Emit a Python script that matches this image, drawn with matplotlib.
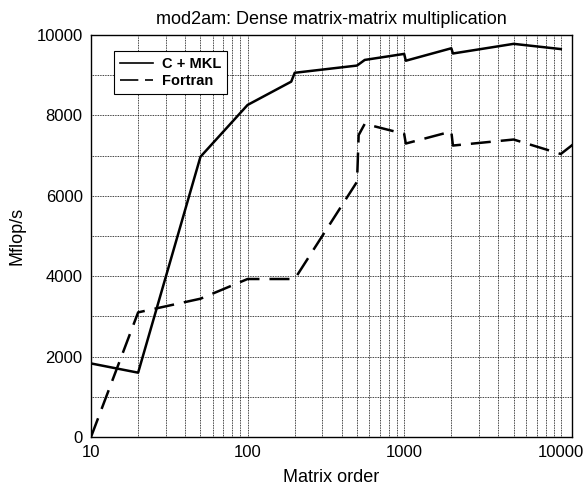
import matplotlib
matplotlib.use("Agg")
import matplotlib.pyplot as plt
from matplotlib.ticker import LogLocator, FixedLocator, NullFormatter

plt.rcParams['font.family'] = ['Liberation Sans', 'DejaVu Sans']

c_x = [10, 20, 50, 100, 190, 200, 500, 560, 1000, 1024, 2000, 2048, 5000, 10000]
c_y = [1830, 1600, 6970, 8260, 8840, 9060, 9240, 9380, 9530, 9360, 9670, 9540, 9780, 9650]

f_x = [10, 20, 50, 100, 200, 500, 512, 560, 1000, 1024, 2000, 2048, 5000, 10000, 12000]
f_y = [0, 3100, 3440, 3930, 3930, 6350, 7510, 7790, 7540, 7300, 7600, 7250, 7400, 7040, 7280]

y_ticks = [0, 2000, 4000, 6000, 8000, 10000]
x_ticks = [10, 100, 1000, 10000]
x_labels = ['10', '100', '1000', '10000']

fig = plt.figure(figsize=(5.84, 4.93), dpi=100)
ax = fig.add_axes([0.1558, 0.1136, 0.8237, 0.8154])

ax.plot(c_x, c_y, color='black', lw=1.8, label='C + MKL')
ax.plot(f_x, f_y, color='black', lw=1.8, dashes=(8, 4), label='Fortran')

ax.set_xscale('log')
ax.set_xlim(10, 11800)
ax.set_ylim(0, 10000)
ax.set_xticks(x_ticks)
ax.set_xticklabels(x_labels)
ax.xaxis.set_minor_locator(LogLocator(base=10, subs=range(2, 10)))
ax.xaxis.set_minor_formatter(NullFormatter())
ax.set_yticks(y_ticks)
ax.yaxis.set_minor_locator(FixedLocator([1000, 3000, 5000, 7000, 9000]))

ax.grid(which='both', color='black', linestyle=(0, (1, 1)), linewidth=0.6)
ax.tick_params(which='both', length=0, labelsize=12, pad=6)
for s in ax.spines.values():
    s.set_linewidth(1.0)

ax.set_title('mod2am: Dense matrix-matrix multiplication', fontsize=13, pad=8)
ax.set_xlabel('Matrix order', fontsize=13, labelpad=6)
ax.set_ylabel('Mflop/s', fontsize=13, labelpad=8)

leg = ax.legend(loc='upper left', bbox_to_anchor=(0.048, 0.960), borderaxespad=0,
                fancybox=False, edgecolor='black', framealpha=1,
                prop={'weight': 'bold', 'size': 10.5},
                handlelength=2.3, handletextpad=0.6, borderpad=0.4, labelspacing=0.2)
leg.get_frame().set_linewidth(0.8)
leg_lines = leg.get_lines()
leg_lines[0].set_linewidth(1.2)
leg_lines[1].set_linewidth(1.2)
leg_lines[1].set_dashes((11, 4))

fig.savefig('out.png', dpi=100)
